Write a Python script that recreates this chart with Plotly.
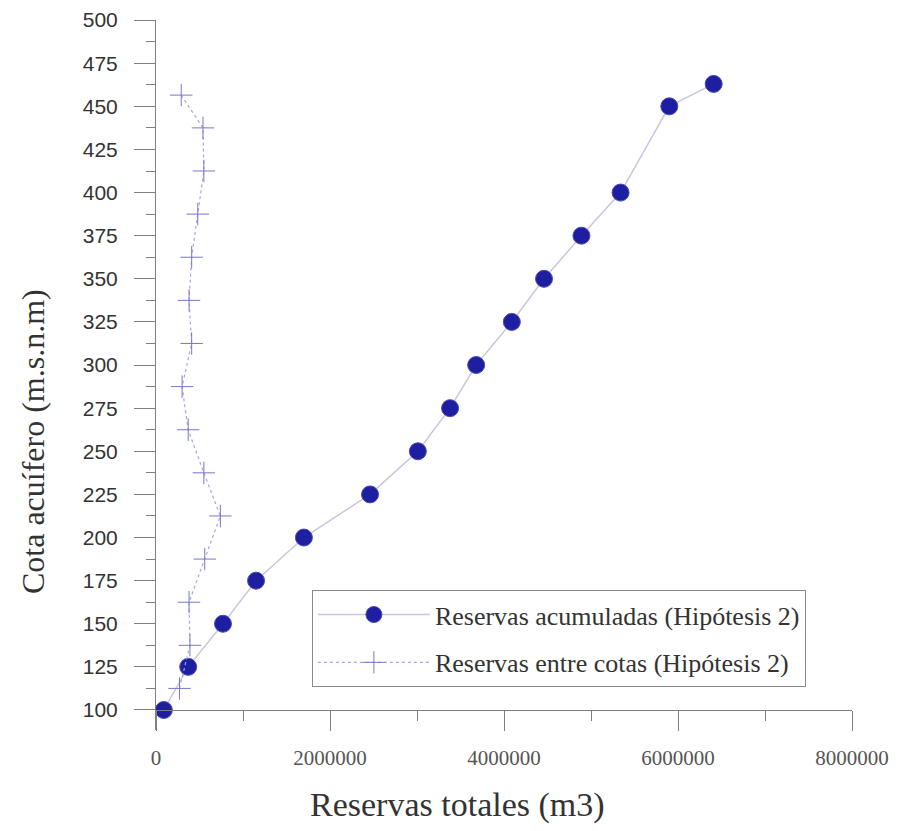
import plotly.graph_objects as go

# Reservas acumuladas (Hipótesis 2)
cota_acum = [100, 125, 150, 175, 200, 225, 250, 275, 300, 325, 350, 375, 400, 450, 463]
reservas_acum = [90000, 370000, 770000, 1150000, 1700000, 2460000, 3010000, 3380000,
                 3680000, 4090000, 4460000, 4890000, 5340000, 5900000, 6410000]

# Reservas entre cotas (Hipótesis 2)
cota_entre = [112.5, 137.5, 162.5, 187.5, 212.5, 237.5, 262.5, 287.5, 312.5,
              337.5, 362.5, 387.5, 412.5, 437.5, 456.5]
reservas_entre = [270000, 390000, 380000, 560000, 740000, 550000, 370000, 300000,
                  410000, 380000, 410000, 480000, 550000, 540000, 290000]

x_tick_vals = [0, 2000000, 4000000, 6000000, 8000000]
x_tick_text = ["0", "2000000", "4000000", "6000000", "8000000"]
y_tick_vals = [100, 125, 150, 175, 200, 225, 250, 275, 300, 325, 350, 375, 400, 425, 450, 475, 500]

fig = go.Figure()
fig.add_trace(go.Scatter(
    x=reservas_acum, y=cota_acum, mode="lines+markers",
    name="Reservas acumuladas (Hipótesis 2)", legendgroup="a",
    line=dict(color="#c6c8dc", width=1.5),
    marker=dict(symbol="circle", size=17, color="#1e1ea0",
                line=dict(color="#4a4ab8", width=1)),
))
fig.add_trace(go.Scatter(
    x=reservas_entre, y=cota_entre, mode="lines+markers",
    name="Reservas entre cotas (Hipótesis 2)", legendgroup="b",
    line=dict(color="#a8a8dc", width=1.2, dash="dot"),
    marker=dict(symbol="cross-thin", size=16, color="#7878c8",
                line=dict(color="#7878c8", width=1)),
))

fig.update_layout(
    width=899, height=831,
    margin=dict(l=148, r=55, t=12, b=109, autoexpand=False),
    paper_bgcolor="white", plot_bgcolor="white",
    showlegend=True,
    legend=dict(
        x=0.224, y=0.197, xanchor="left", yanchor="top",
        bgcolor="white", bordercolor="#8a8a8a", borderwidth=1,
        font=dict(family="Liberation Serif", size=26, color="#333333"),
        traceorder="grouped", tracegroupgap=11, itemwidth=112,
    ),
    annotations=[
        dict(text="Cota acuífero (m.s.n.m)", xref="paper", yref="paper",
             x=-0.1767, y=0.4056, xanchor="center", yanchor="middle",
             textangle=-90, showarrow=False,
             font=dict(family="Liberation Serif", size=32, color="#333333")),
        dict(text="Reservas totales (m3)", xref="paper", yref="paper",
             x=0.4325, y=-0.1056, xanchor="center", yanchor="middle",
             showarrow=False,
             font=dict(family="Liberation Serif", size=34, color="#333333")),
    ],
)

fig.update_xaxes(
    range=[0, 8000000], anchor="free", position=0.02817, automargin=False,
    tickvals=x_tick_vals, ticktext=x_tick_text,
    ticks="outside", ticklen=20, tickwidth=1, tickcolor="#808080",
    minor=dict(dtick=1000000, ticks="outside", ticklen=10, tickcolor="#808080", tickwidth=1),
    showline=True, linecolor="#808080", linewidth=1,
    showgrid=False, zeroline=False,
    ticklabelstandoff=9,
    tickfont=dict(family="Liberation Serif", size=21, color="#555555"),
)
fig.update_yaxes(
    range=[88.4, 500.05], automargin=False,
    tickvals=y_tick_vals,
    ticks="outside", ticklen=21, tickwidth=1, tickcolor="#808080",
    minor=dict(dtick=12.5, tick0=100, ticks="outside", ticklen=9, tickcolor="#808080", tickwidth=1),
    showline=True, linecolor="#808080", linewidth=1,
    showgrid=False, zeroline=False,
    ticklabelstandoff=12,
    tickfont=dict(family="Liberation Sans", size=21, color="#333333"),
)

fig.write_html("out.html")
